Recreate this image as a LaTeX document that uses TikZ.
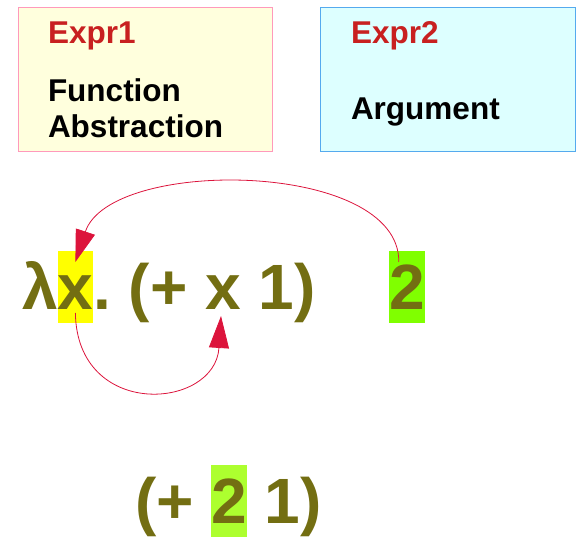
\documentclass[tikz,border=0pt]{standalone}
\usepackage{fontspec}
\setmainfont{Liberation Sans}
\usetikzlibrary{arrows.meta}
\definecolor{olivetext}{RGB}{115,110,18}
\definecolor{exprred}{RGB}{200,32,32}
\definecolor{boxyfill}{RGB}{255,255,221}
\definecolor{boxyline}{RGB}{255,153,187}
\definecolor{boxcfill}{RGB}{221,255,255}
\definecolor{boxcline}{RGB}{85,170,238}
\definecolor{hlyellow}{RGB}{255,255,0}
\definecolor{hlgreen}{RGB}{128,255,0}
\definecolor{hlgreenb}{RGB}{173,255,47}
\definecolor{arrcol}{RGB}{220,20,60}
\frenchspacing
\begin{document}
\begin{tikzpicture}[x=1pt,y=-1pt,
  every node/.style={inner sep=0pt,outer sep=0pt},
  boxtitle/.style={anchor=base west,font=\fontsize{31.5}{36}\selectfont\bfseries,text=exprred},
  boxtext/.style={anchor=base west,font=\fontsize{31.5}{36}\selectfont\bfseries,text=black},
  bigtext/.style={anchor=base west,font=\fontsize{64}{70}\selectfont\bfseries\frenchspacing,text=olivetext},
  hltop/.style={bigtext,text height=59pt,text depth=13pt},
  hlbot/.style={bigtext,text height=58pt,text depth=14pt},
  arr/.style={draw=arrcol,line width=0.8pt,-{Triangle[length=32pt,width=20pt,fill=arrcol]}}
]
\useasboundingbox (0,0) rectangle (579,537);
% boxes
\node[draw=boxyline,fill=boxyfill,line width=0.8pt,minimum width=254pt,minimum height=144pt] (b1) at (145,79) {};
\node[draw=boxcline,fill=boxcfill,line width=0.8pt,minimum width=255pt,minimum height=144pt] (b2) at (447.5,79) {};
\node[boxtitle] (e1) at (48,44) {Expr1};
\node[boxtext] (f1) at (48,102) {Function};
\node[boxtext] (f2) at (48,138) {Abstraction};
\node[boxtitle] (e2) at (351,44) {Expr2};
\node[boxtext] (a2) at (351,120) {Argument};
% main expression
\node[bigtext] (lam) at (22,310) {λ};
\node[hltop,fill=hlyellow] (xh) at (lam.base east) {x};
\node[bigtext] (mid) at (xh.base east) {.\ (+ \mbox{}};
\node[bigtext] (x2) at (mid.base east) {x};
\node[bigtext] (end) at (x2.base east) {\mbox{} 1)};
\node[hltop,fill=hlgreen] (two) at (389,310) {2};
% result
\node[bigtext] (r1) at (135,523) {(+ \mbox{}};
\node[hlbot,fill=hlgreenb] (r2) at (r1.base east) {2};
\node[bigtext] (r3) at (r2.base east) {\mbox{} 1)};
% arrows
\draw[arr] ([xshift=-8pt,yshift=-11pt]two.north) .. controls (400,160) and (110,157) .. ([yshift=-11pt]xh.north);
\draw[arr] ([yshift=10pt]xh.south) .. controls (77,420) and (215,410) .. ([xshift=-2pt,yshift=-6pt]x2.south);
\end{tikzpicture}
\end{document}
